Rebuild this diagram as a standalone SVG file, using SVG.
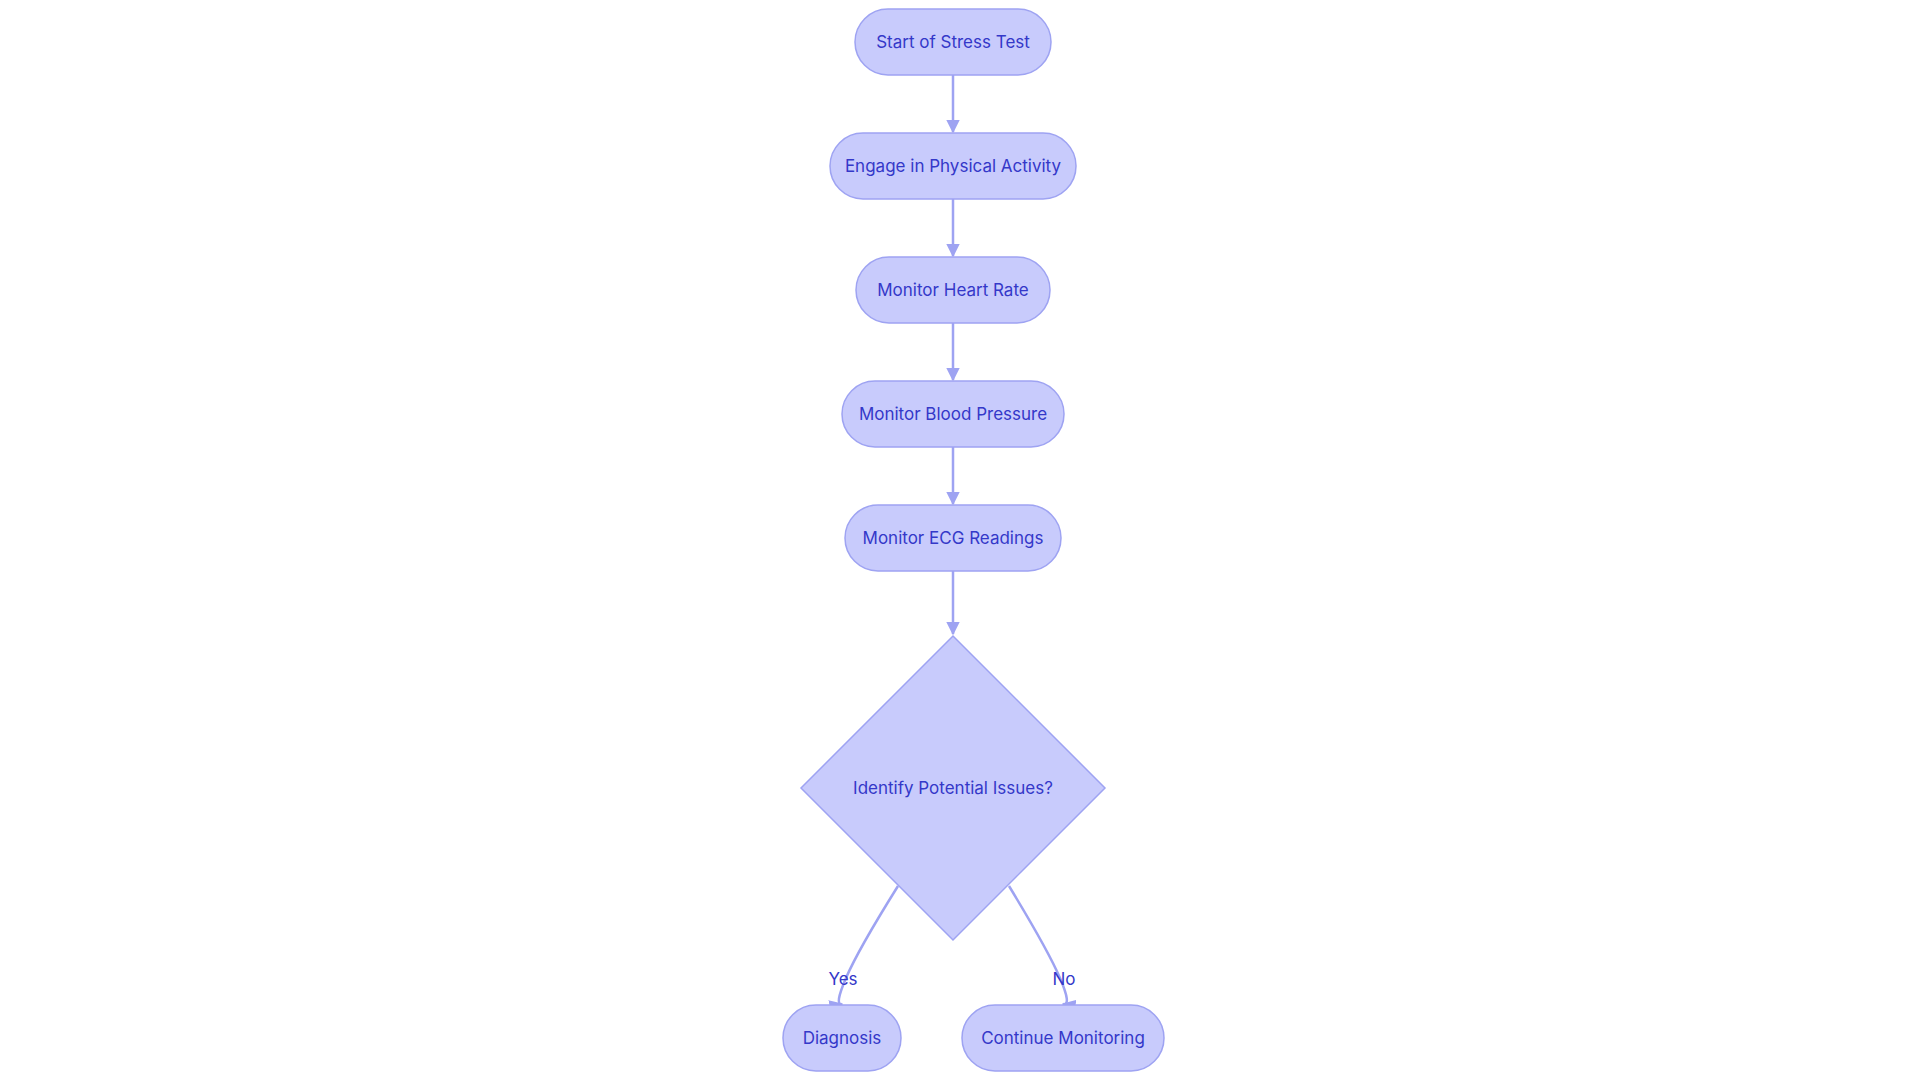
<svg xmlns="http://www.w3.org/2000/svg" width="1920" height="1083" viewBox="0 0 1920 1083">
<style>
.n{fill:#c8cbfc;stroke:#9ea3f2;stroke-width:1.5}
.t{font-family:Inter,"Noto Sans",sans-serif;font-size:17px;fill:#3438c9;text-anchor:middle;dominant-baseline:central}
.e{fill:none;stroke:#9ea3f2;stroke-width:2.5}
</style>
<defs><marker id="a" viewBox="0 0 10 10" refX="9" refY="5" markerWidth="5.5" markerHeight="5.5" orient="auto" markerUnits="strokeWidth"><path d="M0,0L10,5L0,10z" fill="#9ea3f2"/></marker></defs>
<rect width="1920" height="1083" fill="#fff"/>
<g id="connectors">
<path class="e" d="M953,75V132" marker-end="url(#a)"/>
<path class="e" d="M953,199V256" marker-end="url(#a)"/>
<path class="e" d="M953,323V380" marker-end="url(#a)"/>
<path class="e" d="M953,447V504" marker-end="url(#a)"/>
<path class="e" d="M953,571V634" marker-end="url(#a)"/>
<path class="e" d="M898,886Q858,950 846,978T842,1004" marker-end="url(#a)"/>
<path class="e" d="M1009,886Q1048,950 1060,978T1063,1004" marker-end="url(#a)"/>
<text class="t" x="843" y="979">Yes</text>
<text class="t" x="1064" y="979">No</text>
</g>
<g id="n1"><rect class="n" x="855" y="9" width="196" height="66" rx="33"/><text class="t" x="953" y="42">Start of Stress Test</text></g>
<g id="n2"><rect class="n" x="830" y="133" width="246" height="66" rx="33"/><text class="t" x="953" y="166">Engage in Physical Activity</text></g>
<g id="n3"><rect class="n" x="856" y="257" width="194" height="66" rx="33"/><text class="t" x="953" y="290">Monitor Heart Rate</text></g>
<g id="n4"><rect class="n" x="842" y="381" width="222" height="66" rx="33"/><text class="t" x="953" y="414">Monitor Blood Pressure</text></g>
<g id="n5"><rect class="n" x="845" y="505" width="216" height="66" rx="33"/><text class="t" x="953" y="538">Monitor ECG Readings</text></g>
<g id="n6"><path class="n" d="M953,636L1105,788L953,940L801,788z"/><text class="t" x="953" y="788">Identify Potential Issues?</text></g>
<g id="n7"><rect class="n" x="783" y="1005" width="118" height="66" rx="33"/><text class="t" x="842" y="1038">Diagnosis</text></g>
<g id="n8"><rect class="n" x="962" y="1005" width="202" height="66" rx="33"/><text class="t" x="1063" y="1038">Continue Monitoring</text></g>
</svg>
